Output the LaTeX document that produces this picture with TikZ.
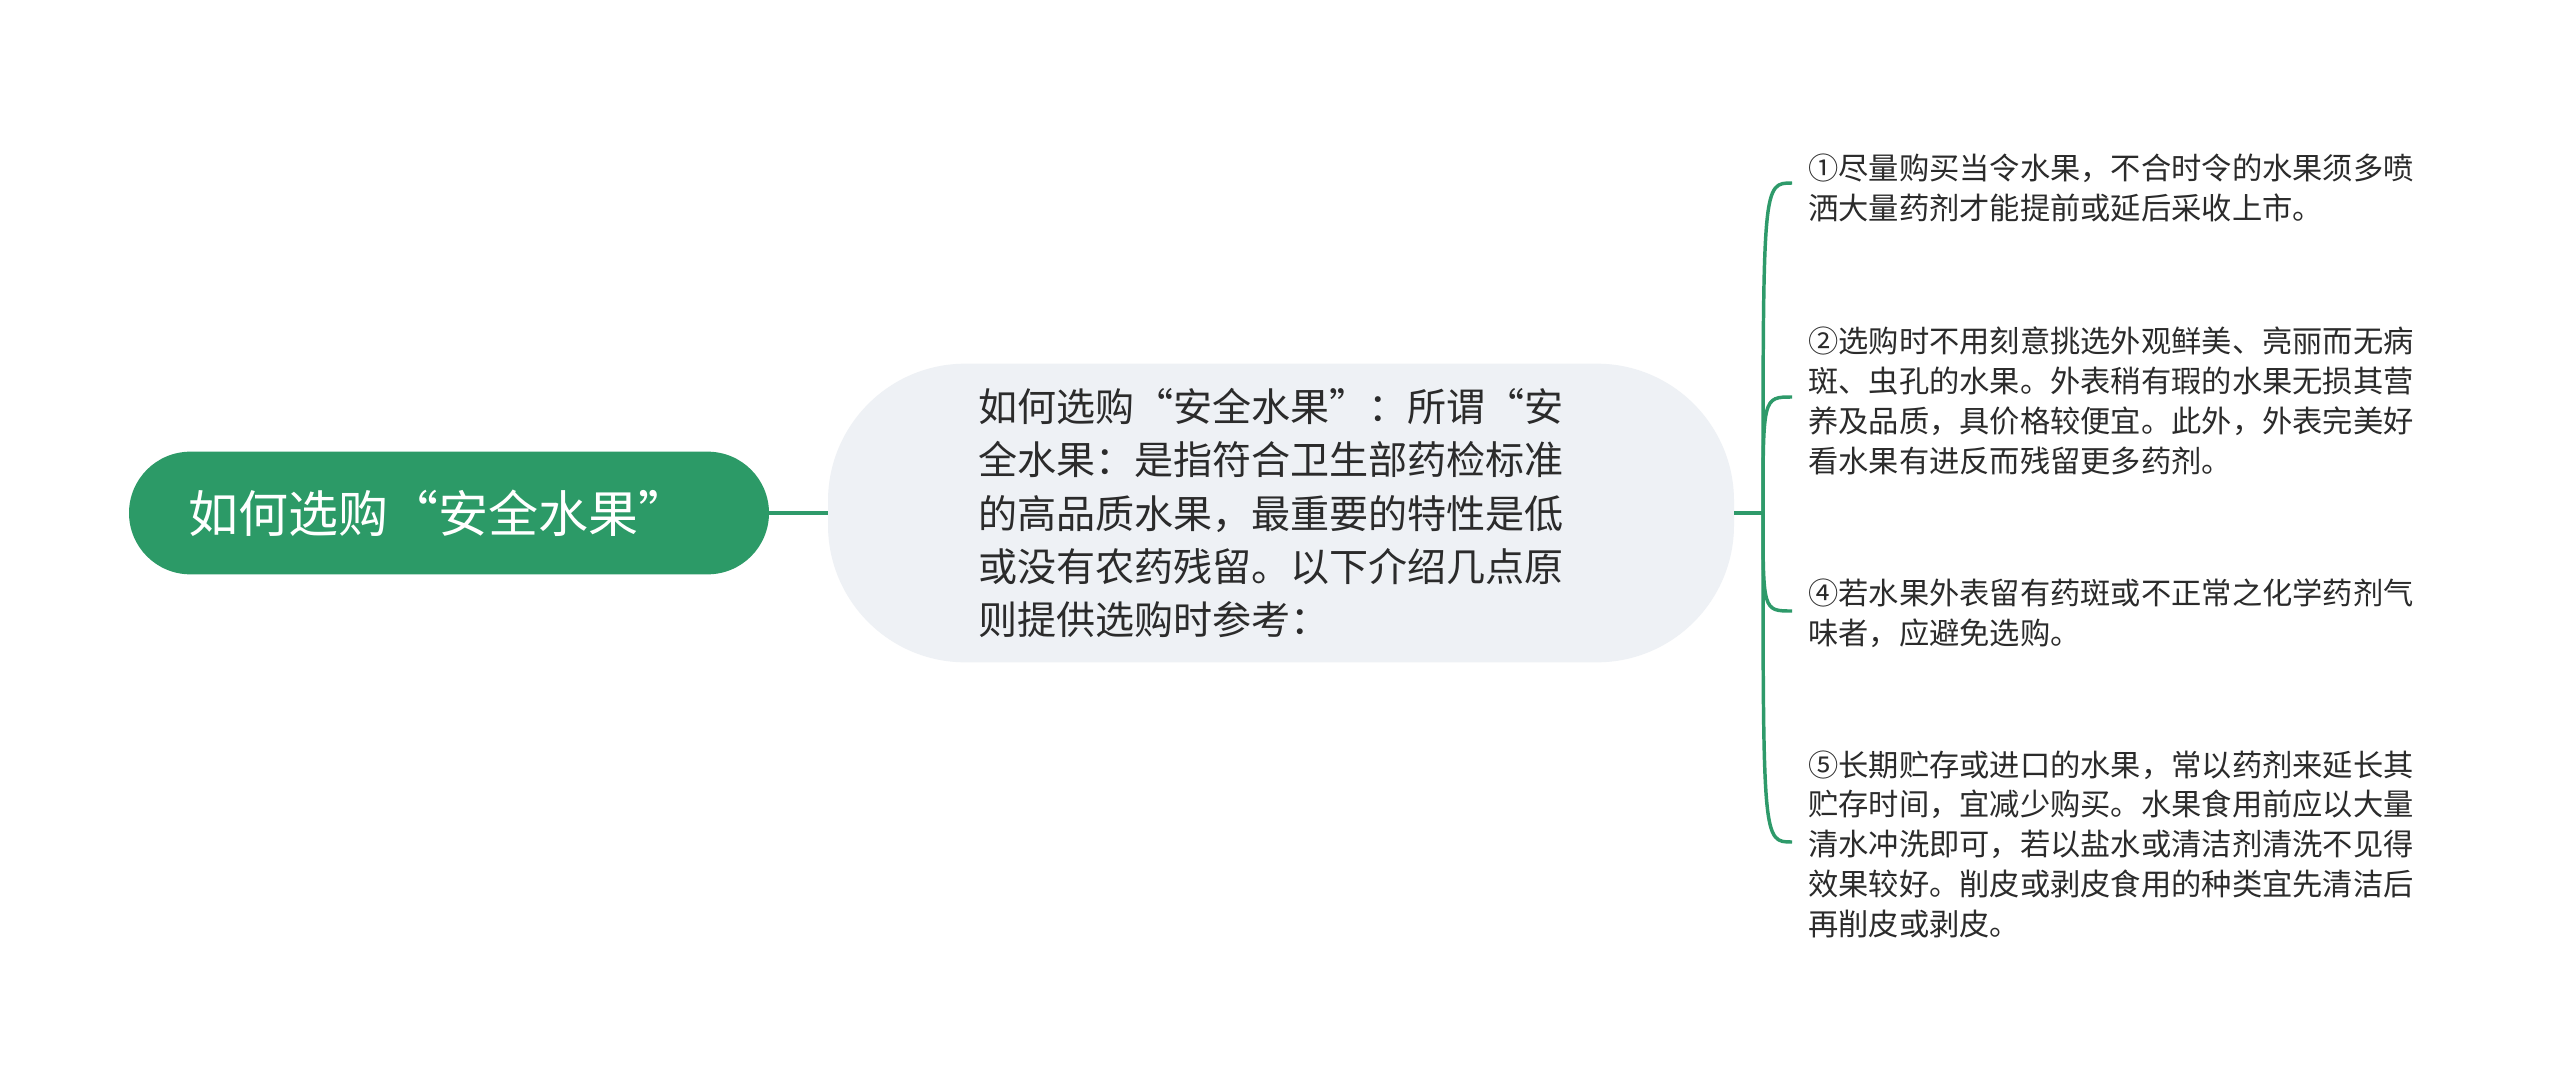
\documentclass[tikz,border=0pt]{standalone}
\usepackage{fontspec}
\newfontfamily\cjk{Noto Sans CJK SC}
\definecolor{rootgreen}{HTML}{2C9A67}
\definecolor{linkgreen}{HTML}{2E9A6A}
\definecolor{topicfill}{HTML}{EEF1F5}
\definecolor{textdark}{HTML}{2B2B2B}
\begin{document}
\begin{tikzpicture}[x=0.75pt,y=-0.75pt,
  rootbox/.style={fill=rootgreen, text=white, rounded corners=46pt, minimum width=480pt, minimum height=92pt, inner sep=0pt, font=\cjk\fontsize{37.5}{44}\selectfont},
  topicbox/.style={fill=topicfill, rounded corners=103pt, minimum width=679.5pt, minimum height=224pt, inner sep=0pt},
  topictext/.style={text=textdark, inner sep=0pt, align=left, font=\cjk\fontsize{29.3}{40}\selectfont},
  leafbox/.style={anchor=west, align=left, inner sep=0pt, text=textdark, font=\cjk\fontsize{22.7}{29.8}\selectfont},
  link/.style={draw=linkgreen, line width=2.6pt}]
\useasboundingbox (0,0) rectangle (2560,1085);
\fill[white] (0,0) rectangle (2560,1085);

\node[rootbox] (root) at (449,513) {如何选购“安全水果”\hspace*{16pt}};
\node[topicbox] (topic) at (1281,513) {};
\node[topictext] (topictxt) at (1271,513) {如何选购“安全水果”：所谓“安\\全水果：是指符合卫生部药检标准\\的高品质水果，最重要的特性是低\\或没有农药残留。以下介绍几点原\\则提供选购时参考：};

\node[leafbox] (l1) at (1808,188) {①尽量购买当令水果，不合时令的水果须多喷\\洒大量药剂才能提前或延后采收上市。};
\node[leafbox] (l2) at (1808,401) {②选购时不用刻意挑选外观鲜美、亮丽而无病\\斑、虫孔的水果。外表稍有瑕的水果无损其营\\养及品质，具价格较便宜。此外，外表完美好\\看水果有进反而残留更多药剂。};
\node[leafbox] (l4) at (1808,613) {④若水果外表留有药斑或不正常之化学药剂气\\味者，应避免选购。};
\node[leafbox] (l5) at (1808,844) {⑤长期贮存或进口的水果，常以药剂来延长其\\贮存时间，宜减少购买。水果食用前应以大量\\清水冲洗即可，若以盐水或清洁剂清洗不见得\\效果较好。削皮或剥皮食用的种类宜先清洁后\\再削皮或剥皮。};

\coordinate (J) at (1763,513);
\coordinate (e1) at (1792,183);
\coordinate (e2) at (1792,397);
\coordinate (e4) at (1792,611);
\coordinate (e5) at (1792,842);

\draw[link] (root.east) -- (topic.west);
\draw[link] (topic.east) -- (J);
\draw[link] (J) .. controls (J |- e1) .. (e1);
\draw[link] (J) .. controls (J |- e2) .. (e2);
\draw[link] (J) .. controls (J |- e4) .. (e4);
\draw[link] (J) .. controls (J |- e5) .. (e5);
\end{tikzpicture}
\end{document}
